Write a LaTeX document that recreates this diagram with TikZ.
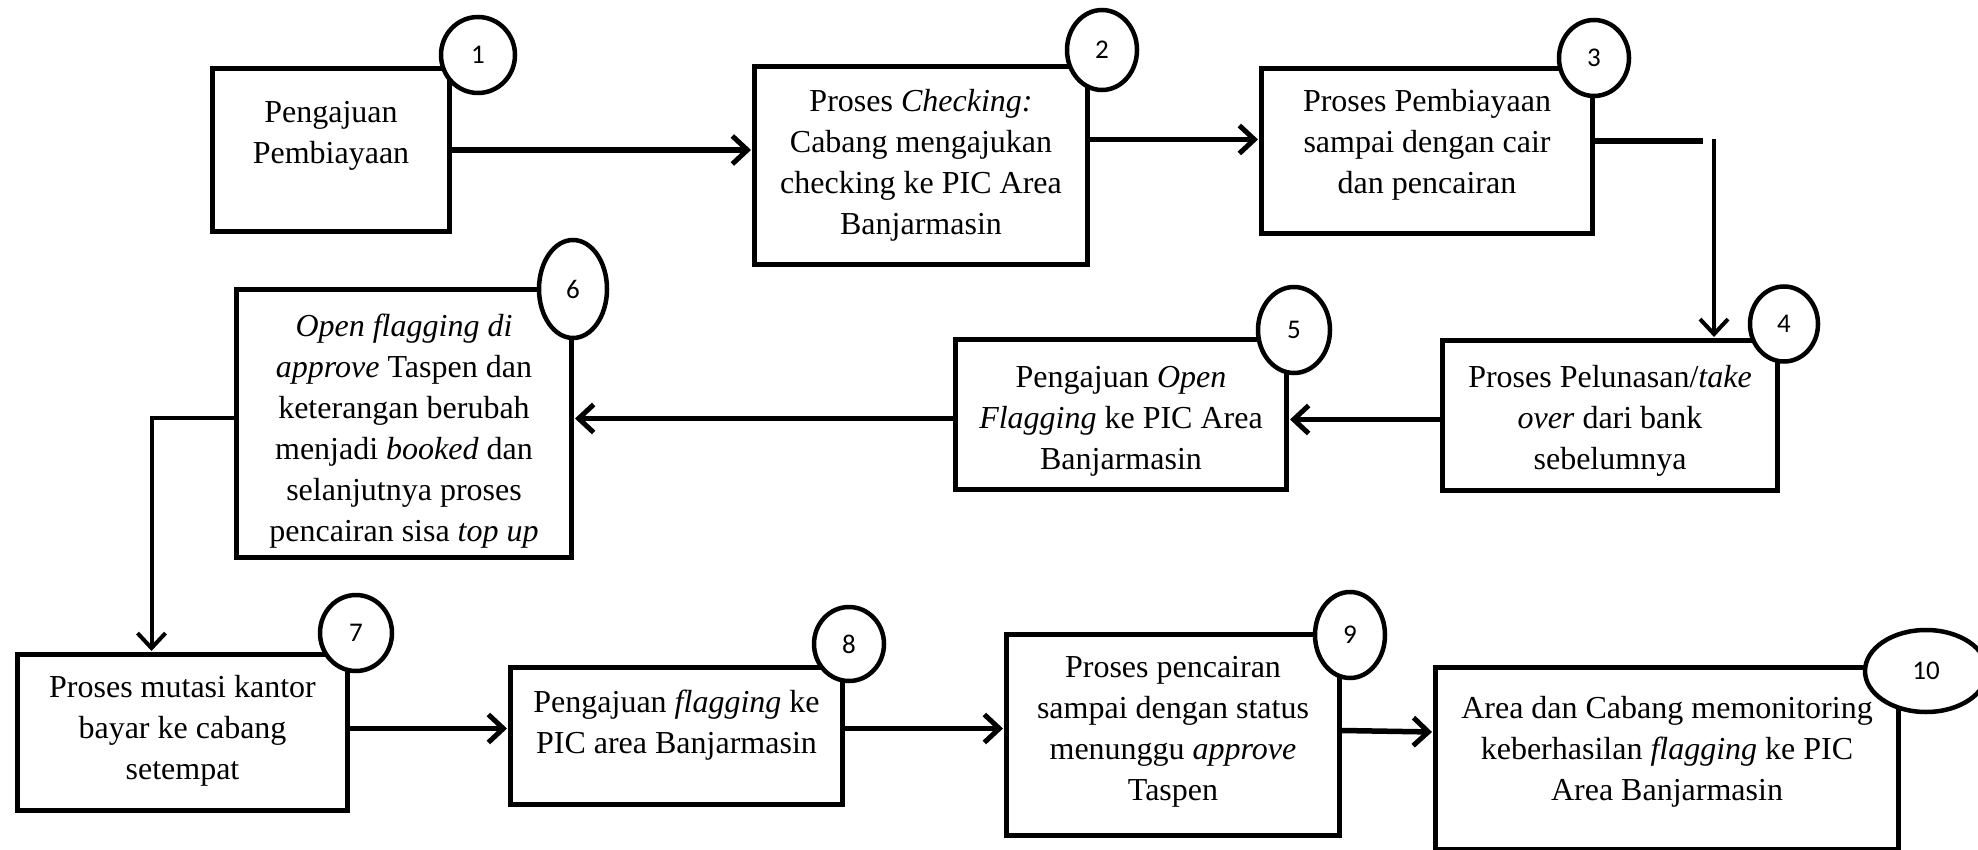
\documentclass[tikz,border=0pt]{standalone}
\usepackage{fontspec}
\setmainfont{Liberation Serif}
\newfontfamily\numfont{Carlito}
\usetikzlibrary{arrows.meta,shapes.geometric}
\newcommand\bt[4]{\parbox[c][#2][t]{#1}{\centering\rule{0pt}{#3}#4}}
\tikzset{
  procbox/.style={draw, line width=5pt, inner sep=0pt, anchor=north west, fill=white,
     font=\fontsize{32}{41}\selectfont},
  numcirc/.style={draw, ellipse, line width=4.5pt, fill=white, inner sep=0pt,
     font=\numfont\fontsize{27}{30}\selectfont},
  conn/.style={line width=5.5pt, -{Straight Barb[length=15pt,width=28pt,line width=5pt]}, shorten >=1pt},
  connthin/.style={line width=4pt, -{Straight Barb[length=15pt,width=28pt,line width=4pt]}, shorten >=1pt},
  plainline/.style={line width=5.5pt}
}
\begin{document}
\begin{tikzpicture}[x=1pt,y=-1pt]
\useasboundingbox (0,0) rectangle (1978,850);
% boxes
\node[procbox] (b1) at (210,66) {\bt{237pt}{163pt}{54pt}{Pengajuan\\Pembiayaan}};
\node[procbox] (b2) at (752,64) {\bt{333pt}{198pt}{45pt}{Proses \textit{Checking:}\\Cabang mengajukan\\checking ke PIC Area\\Banjarmasin}};
\node[procbox] (b3) at (1259,66) {\bt{331pt}{165pt}{43pt}{Proses Pembiayaan\\sampai dengan cair\\dan pencairan}};
\node[procbox] (b4) at (1440,338) {\bt{335pt}{150pt}{47pt}{Proses Pelunasan/\textit{take}\\\textit{over} dari bank\\sebelumnya}};
\node[procbox] (b5) at (953,337) {\bt{331pt}{150pt}{48pt}{Pengajuan \textit{Open}\\\textit{Flagging} ke PIC Area\\Banjarmasin}};
\node[procbox] (b6) at (234,287) {\bt{335pt}{268pt}{47pt}{\textit{Open flagging di}\\\textit{approve} Taspen dan\\keterangan berubah\\menjadi \textit{booked} dan\\selanjutnya proses\\pencairan sisa \textit{top up}}};
\node[procbox] (b7) at (15,652) {\bt{330pt}{156pt}{43pt}{Proses mutasi kantor\\bayar ke cabang\\setempat}};
\node[procbox] (b8) at (508,665) {\bt{332pt}{137pt}{45pt}{Pengajuan \textit{flagging} ke\\PIC area Banjarmasin}};
\node[procbox] (b9) at (1004,632) {\bt{333pt}{201pt}{43pt}{Proses pencairan\\sampai dengan status\\menunggu \textit{approve}\\Taspen}};
\node[procbox] (b10) at (1433,665) {\bt{463pt}{182pt}{51pt}{Area dan Cabang memonitoring\\keberhasilan \textit{flagging} ke PIC\\Area Banjarmasin}};
% connectors
\draw[conn] (b1.east) -- (b1.east -| b2.west);
\draw[conn] ([yshift=26pt]b2.east) -- ([yshift=26pt]b2.east -| b3.west);
\coordinate (k3) at ([xshift=108pt,yshift=10pt]b3.east);
\coordinate (k4) at ([xshift=119pt,yshift=12pt]b3.east);
\draw[plainline] ([yshift=10pt]b3.east) -- (k3);
\draw[connthin] (k4) -- (k4 |- b4.north);
\draw[conn] ([yshift=-4pt]b4.west) -- ([yshift=-4pt]b4.west -| b5.east);
\draw[conn] ([yshift=-4pt]b5.west) -- ([yshift=-4pt]b5.west -| b6.east);
\draw[connthin] ([yshift=6pt]b6.west) -| ([xshift=-31pt]b7.north);
\draw[conn] ([yshift=4pt]b7.east) -- ([yshift=4pt]b7.east -| b8.west);
\draw[conn] ([yshift=7.5pt]b8.east) -- ([yshift=7.5pt]b8.east -| b9.west);
\draw[conn] ([yshift=4.5pt]b9.east) -- ([yshift=26.5pt]b10.west);
% number circles
\node[numcirc, minimum width=74pt, minimum height=76pt] (c1) at (478,55) {1};
\node[numcirc, minimum width=70pt, minimum height=80pt] (c2) at (1102,50) {2};
\node[numcirc, minimum width=70pt, minimum height=76pt] (c3) at (1594,58) {3};
\node[numcirc, minimum width=68pt, minimum height=75pt] (c4) at (1784,324) {4};
\node[numcirc, minimum width=72pt, minimum height=86pt] (c5) at (1294,330) {5};
\node[numcirc, minimum width=68pt, minimum height=98pt] (c6) at (573,289) {6};
\node[numcirc, minimum width=72pt, minimum height=76pt] (c7) at (356,633) {7};
\node[numcirc, minimum width=70pt, minimum height=74pt] (c8) at (849,644) {8};
\node[numcirc, minimum width=70pt, minimum height=86pt] (c9) at (1350,635) {9};
\node[numcirc, minimum width=122pt, minimum height=82pt] (c10) at (1926,671) {10};
\end{tikzpicture}
\end{document}
